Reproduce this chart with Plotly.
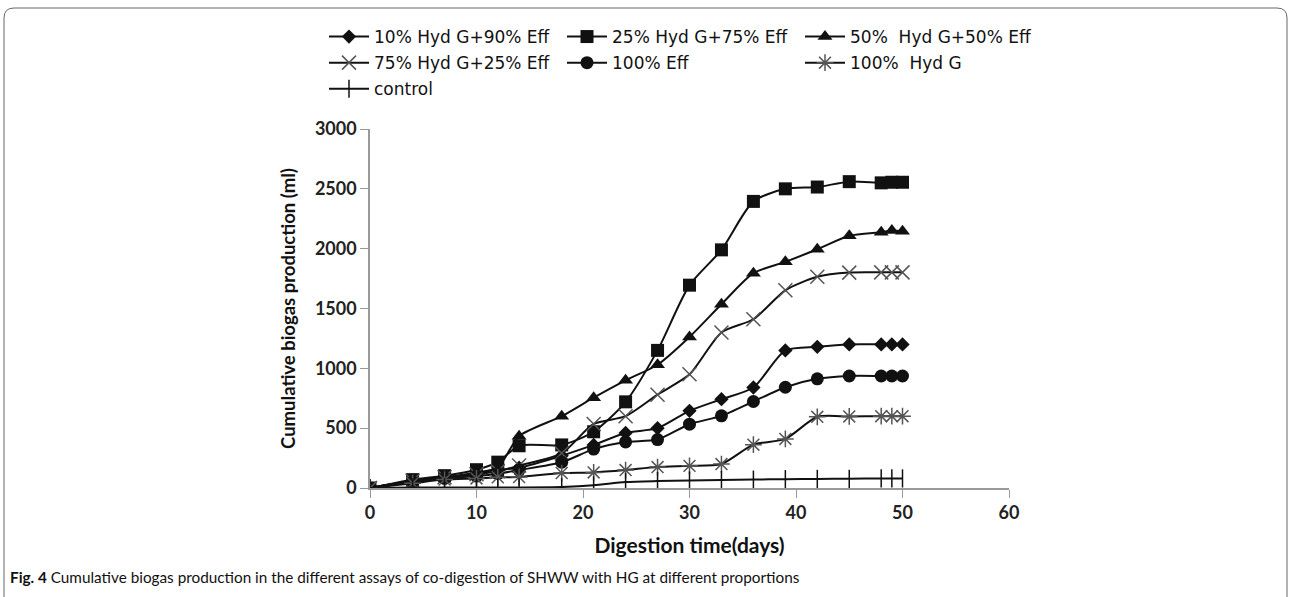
import plotly.graph_objects as go

days = [0, 4, 7, 10, 12, 14, 18, 21, 24, 27, 30, 33, 36, 39, 42, 45, 48, 49, 50]

hyd10_eff90 = [0, 60, 90, 120, 150, 170, 270, 360, 460, 500, 645, 742, 840, 1150, 1180, 1200, 1200, 1200, 1200]
hyd25_eff75 = [0, 70, 103, 153, 216, 353, 360, 470, 720, 1150, 1695, 1990, 2395, 2500, 2515, 2560, 2550, 2555, 2555]
hyd50_eff50 = [0, 60, 90, 130, 170, 433, 600, 755, 900, 1030, 1262, 1535, 1795, 1890, 1995, 2108, 2138, 2152, 2145]
hyd75_eff25 = [0, 60, 90, 115, 140, 188, 290, 535, 600, 780, 950, 1300, 1410, 1652, 1765, 1800, 1802, 1802, 1802]
eff100 = [0, 50, 80, 100, 120, 150, 215, 325, 385, 405, 533, 603, 723, 842, 912, 936, 936, 936, 936]
hydg100 = [0, 40, 70, 80, 90, 92, 125, 130, 150, 175, 185, 200, 362, 410, 595, 598, 600, 600, 600]
control = [0, 5, 5, 5, 5, 5, 8, 22, 50, 58, 62, 66, 70, 74, 76, 77, 80, 80, 80]

names = ["10% Hyd G+90% Eff", "25% Hyd G+75% Eff", "50%  Hyd G+50% Eff",
         "75% Hyd G+25% Eff", "100% Eff", "100%  Hyd G", "control"]
series = [hyd10_eff90, hyd25_eff75, hyd50_eff50, hyd75_eff25, eff100, hydg100, control]
symbols = ["diamond", "square", "triangle-up", "x-thin-open", "circle", "asterisk-open", "line-ns-open"]
sizes = [11, 13, 13, 14, 13, 14, 13]
legends = ["legend", "legend2", "legend3", "legend", "legend2", "legend3", "legend"]

W, H = 1292, 597
L, R, T, B = 370, 283, 129, 109
PW, PH = W - L - R, H - T - B

def px(x):
    return (x - L) / PW

def py(y):
    return (H - B - y) / PH

FONT = "Lato, Open Sans, sans-serif"

fig = go.Figure()
for i, (nm, ys) in enumerate(zip(names, series)):
    thin = symbols[i] in ("x-thin-open", "asterisk-open", "line-ns-open")
    mcol = "#555555" if symbols[i] in ("x-thin-open", "asterisk-open") else "#111111"
    fig.add_trace(go.Scatter(
        x=days, y=ys, name=nm, mode="lines+markers",
        line=dict(color="#111111", width=2, shape="spline", smoothing=0.7),
        marker=dict(symbol=symbols[i], size=sizes[i], color=mcol,
                    line=dict(color=mcol, width=1.5 if thin else 0)),
        legend=legends[i], legendgroup=nm,
    ))

legfont = dict(family="DejaVu Sans, sans-serif", size=17, color="#111111")
common = dict(orientation="v", yanchor="top", xanchor="left", bgcolor="rgba(0,0,0,0)",
              font=legfont, tracegroupgap=1, itemwidth=40)

fig.update_layout(
    width=W, height=H,
    margin=dict(l=L, r=R, t=T, b=B),
    paper_bgcolor="white", plot_bgcolor="white",
    legend=dict(x=px(324), y=py(19), **common),
    legend2=dict(x=px(562), y=py(19), **common),
    legend3=dict(x=px(800), y=py(19), **common),
    xaxis=dict(range=[0, 60], dtick=10, tick0=0, showgrid=False, zeroline=False,
               showline=True, linecolor="#999999", linewidth=1.5,
               ticks="outside", ticklen=8, tickcolor="#999999",
               tickfont=dict(family=FONT, size=18, color="#222222", weight="bold"),
               title=dict(text="<b>Digestion time(days)</b>", standoff=16,
                          font=dict(family=FONT, size=21, color="#111111"))),
    yaxis=dict(range=[0, 3000], dtick=500, tick0=0, showgrid=False, zeroline=False,
               showline=True, linecolor="#999999", linewidth=1.5,
               ticks="outside", ticklen=8, tickcolor="#999999",
               tickfont=dict(family=FONT, size=18, color="#222222", weight="bold"),
               title=dict(text="<b>Cumulative biogas production (ml)</b>", standoff=14,
                          font=dict(family=FONT, size=18.5, color="#111111"))),
    showlegend=True,
)

# rounded frame around the whole figure
x0, y0, x1, y1 = px(4), py(8), px(1287), py(610)
r, ry = 10 / PW, 10 / PH
path = (f"M {x0+r},{y0} L {x1-r},{y0} Q {x1},{y0} {x1},{y0-ry} "
        f"L {x1},{y1} L {x0},{y1} L {x0},{y0-ry} Q {x0},{y0} {x0+r},{y0} Z")
fig.add_shape(type="path", path=path, xref="paper", yref="paper",
              line=dict(color="#666666", width=1), layer="below")

fig.add_annotation(
    x=px(8), y=py(577), xref="paper", yref="paper", xanchor="left", yanchor="middle",
    showarrow=False,
    text="<b>Fig. 4</b> Cumulative biogas production in the different assays of co-digestion of SHWW with HG at different proportions",
    font=dict(family=FONT, size=15.3, color="#111111"),
)

fig.write_html("out.html")
